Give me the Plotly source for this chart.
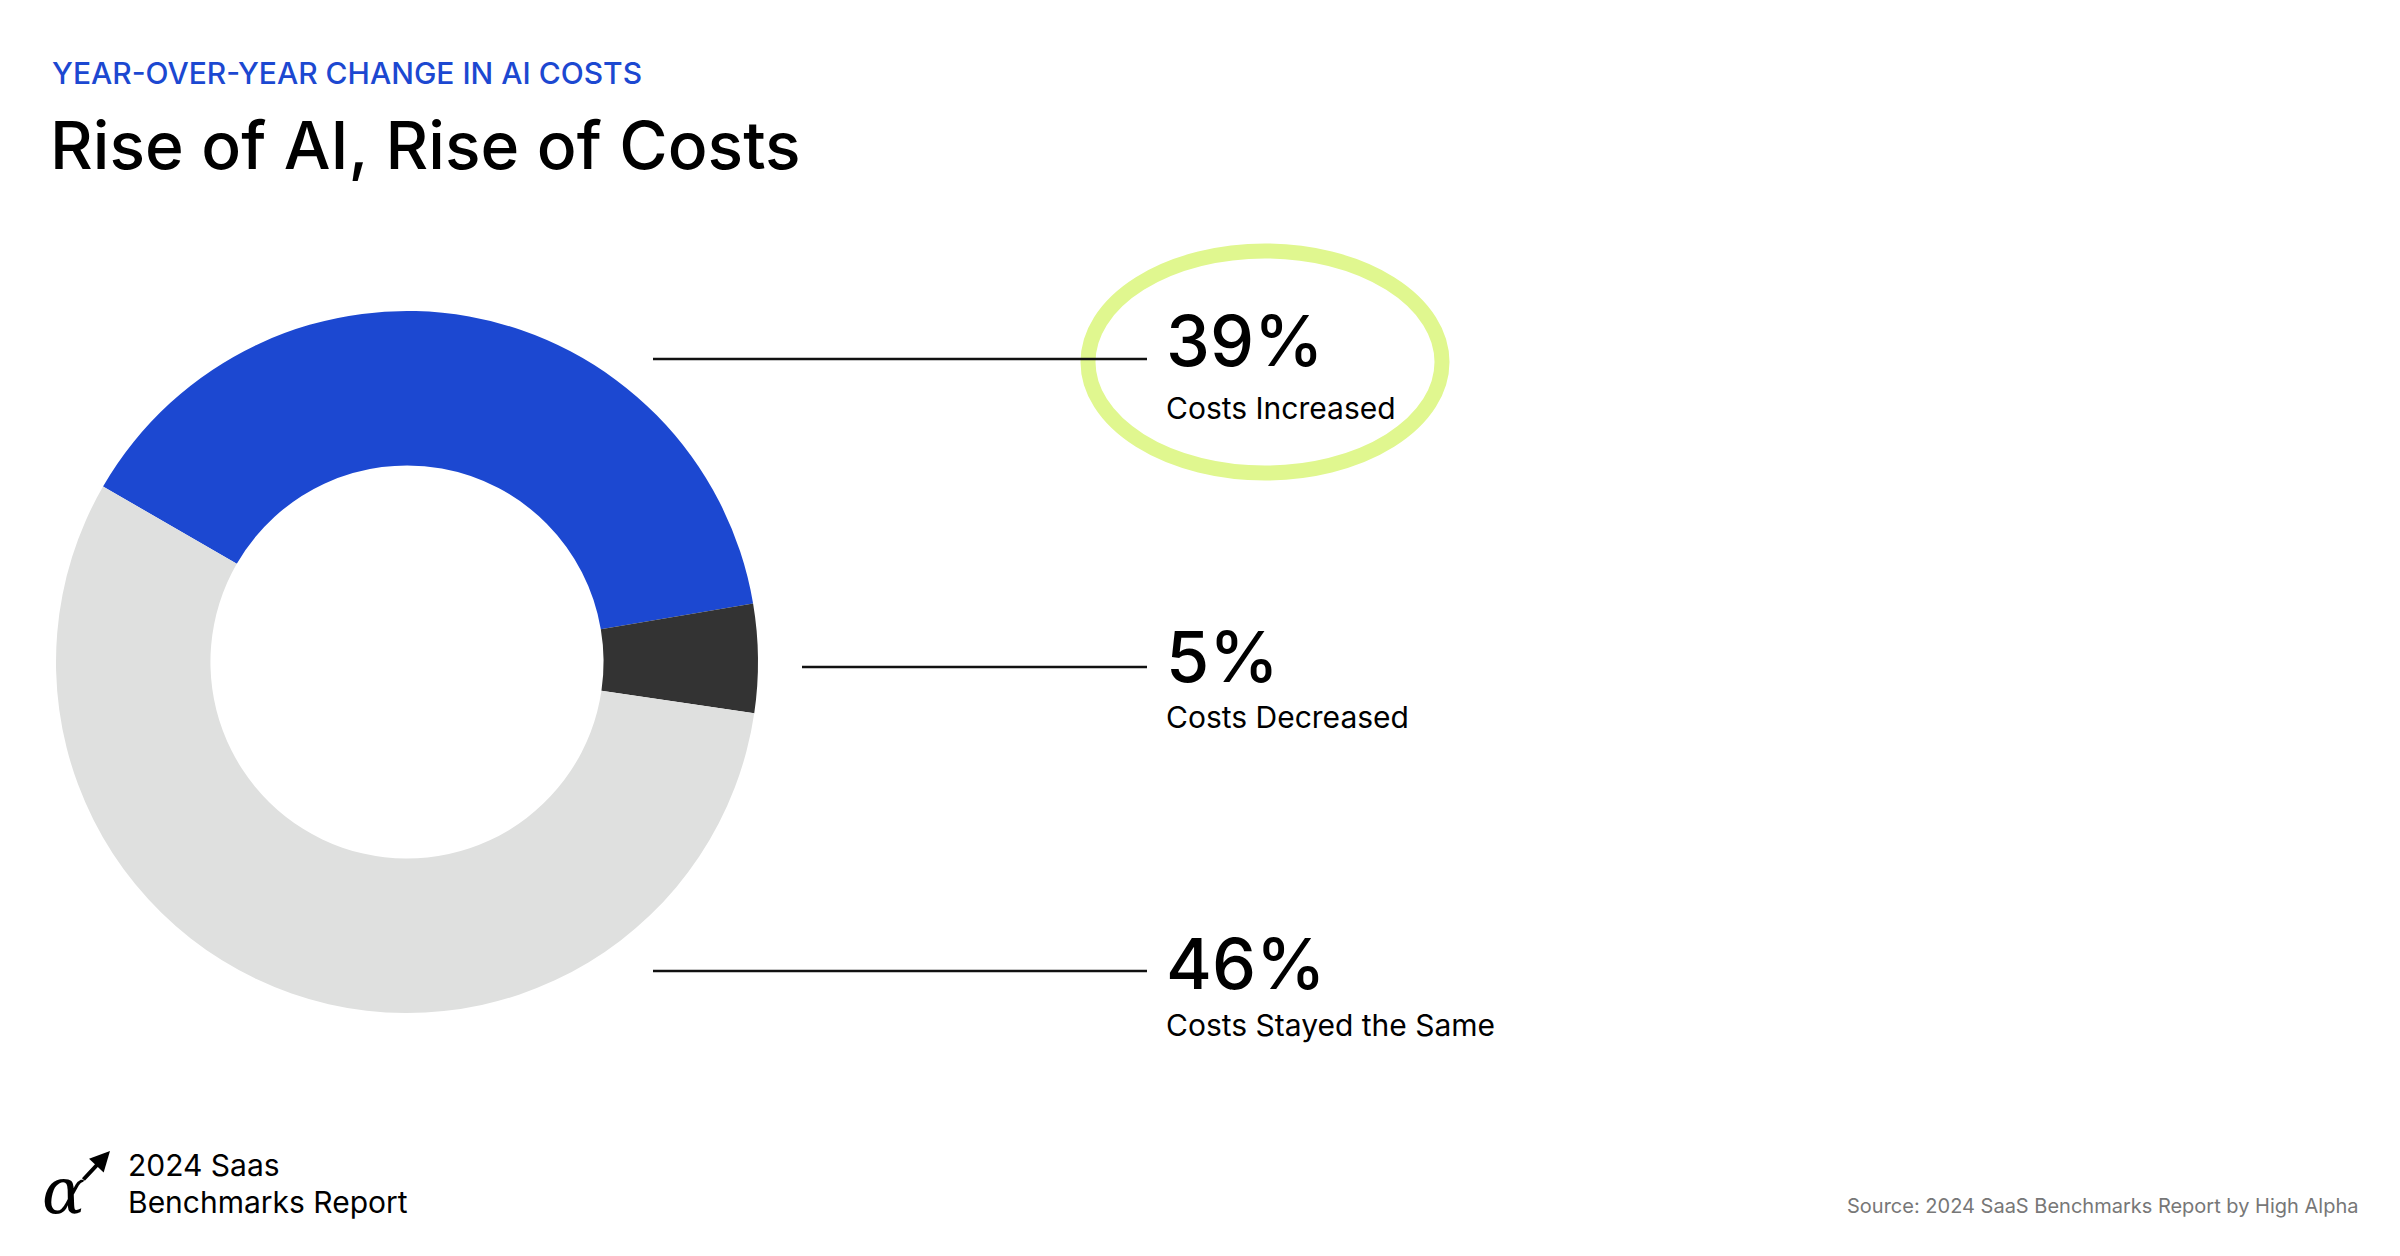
import plotly.graph_objects as go

categories = ["Costs Increased", "Costs Decreased", "Costs Stayed the Same"]
pct_labels = [39, 5, 46]
slice_values = [39, 5, 56]  # shares as drawn in the ring
colors = ["#1c48d1", "#333333", "#dfe0df"]

W, H = 2400, 1256
DX, DY = -12, -9
def px(x): return (x + DX) / W
def py(y): return 1 - (y + DY) / H

fig = go.Figure()
fig.add_trace(go.Pie(values=slice_values, labels=categories, hole=0.56, sort=False,
                     direction="clockwise", rotation=-60, textinfo="none",
                     hoverinfo="label", marker=dict(colors=colors, line=dict(width=0)),
                     domain=dict(x=[48 / W, 750 / W], y=[1 - 1005 / H, 1 - 303 / H]), showlegend=False))

font = "Inter, Roboto, sans-serif"
fig.add_shape(type="circle", xref="paper", yref="paper",
              x0=px(1092), x1=px(1446), y0=py(474), y1=py(252),
              line=dict(color="#e0f78f", width=15), layer="below")

line_x0 = [657, 806, 657]
line_y = [360, 668, 972]
big_y = [341, 657, 964]
lab_y = [409, 718, 1026]
for i in range(3):
    fig.add_shape(type="line", xref="paper", yref="paper", x0=px(line_x0[i]), x1=px(1151),
                  y0=py(line_y[i]), y1=py(line_y[i]), line=dict(color="#111111", width=2.5))
    fig.add_annotation(xref="paper", yref="paper", x=px(1168), y=py(big_y[i]),
                       text=f"{pct_labels[i]}%", showarrow=False, xanchor="left", yanchor="middle",
                       font=dict(family=font, size=70, color="#000", weight=500))
    fig.add_annotation(xref="paper", yref="paper", x=px(1168), y=py(lab_y[i]), text=categories[i],
                       showarrow=False, xanchor="left", yanchor="middle",
                       font=dict(family=font, size=30, color="#000"))

def txt(x, y, t, size, color="#000", anchor="left", fam=font, weight=400):
    fig.add_annotation(xref="paper", yref="paper", x=px(x), y=py(y), text=t, showarrow=False,
                       xanchor=anchor, yanchor="middle",
                       font=dict(family=fam, size=size, color=color, weight=weight))

txt(54, 74, "YEAR-OVER-YEAR CHANGE IN AI COSTS", 30, "#1c48d1", weight=500)
txt(52, 146, "Rise of AI, Rise of Costs", 66, weight=500)
txt(130, 1166, "2024 Saas", 30)
txt(130, 1203, "Benchmarks Report", 30)
txt(44, 1192, "<i>α</i>", 64, fam="DejaVu Serif")
fig.add_annotation(xref="paper", yref="paper", axref="pixel", ayref="pixel",
                   x=px(114), y=py(1152), ax=-28, ay=30, text="", showarrow=True,
                   arrowhead=2, arrowsize=1, arrowwidth=4, arrowcolor="#000")
txt(2364, 1207, "Source: 2024 SaaS Benchmarks Report by High Alpha", 20, "#777", "right")

fig.update_layout(width=W, height=H, margin=dict(l=0, r=0, t=0, b=0),
                  paper_bgcolor="white", plot_bgcolor="white")
fig.write_html("out.html")
